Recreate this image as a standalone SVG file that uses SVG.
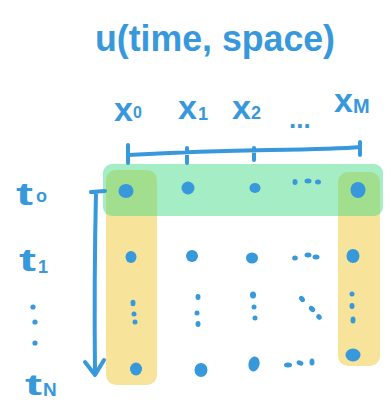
<svg xmlns="http://www.w3.org/2000/svg" width="391" height="404" viewBox="0 0 391 404">
<style>
.t{font-family:"Liberation Sans","DejaVu Sans",sans-serif;font-weight:bold;fill:#3898dc}
.d{fill:#3898dc}
.s{fill:none;stroke:#3898dc;stroke-width:4;stroke-linecap:round;stroke-linejoin:round}
</style>
<rect width="391" height="404" fill="#ffffff"/>
<g id="highlights">
<rect x="106" y="170" width="51" height="215" rx="10" fill="#f7e39a"/>
<rect x="338" y="172" width="42" height="194" rx="10" fill="#f7e39a"/>
<rect x="103" y="164" width="280" height="52" rx="9" fill="rgb(55,215,126)" fill-opacity="0.45"/>
</g>
<g id="title">
<text class="t" x="95" y="51" font-size="36" textLength="240" lengthAdjust="spacingAndGlyphs">u(time, space)</text>
</g>
<g id="space-labels">
<text class="t" x="114" y="121" font-size="34">x</text><text class="t" x="133" y="118" font-size="16">0</text>
<text class="t" x="178" y="119" font-size="34">x</text><text class="t" x="198" y="120" font-size="18">1</text>
<text class="t" x="232" y="119" font-size="34">x</text><text class="t" x="251" y="119" font-size="18">2</text>
<text class="t" x="289" y="128" font-size="26">...</text>
<text class="t" x="334" y="112" font-size="34">x</text><text class="t" x="353" y="113" font-size="20">M</text>
</g>
<g id="time-labels">
<text class="t" x="16" y="205" font-size="32" textLength="17" lengthAdjust="spacingAndGlyphs">t</text><text class="t" x="36" y="202" font-size="18">o</text>
<text class="t" x="19" y="271" font-size="32" textLength="17" lengthAdjust="spacingAndGlyphs">t</text><text class="t" x="38" y="273" font-size="18">1</text>
<circle class="d" cx="33" cy="307" r="2.6"/>
<circle class="d" cx="35" cy="322" r="2.6"/>
<circle class="d" cx="35" cy="343" r="2.6"/>
<text class="t" x="25" y="395" font-size="30" textLength="17" lengthAdjust="spacingAndGlyphs">t</text><text class="t" x="43" y="396" font-size="19">N</text>
</g>
<g id="connectors">
<path class="s" d="M128 145 L128 163 M128 155 Q200 151 270 150 T360 147 M187 148 L187 163 M254 148 L254 160 M360 142 L360 155"/>
<path class="s" d="M91 192 L105 191 M96 192 Q94 280 95 374 M85 362 L95 375 L104 360"/>
</g>
<g id="grid-points">
<ellipse class="d" cx="126" cy="191" rx="7.5" ry="7"/>
<ellipse class="d" cx="188" cy="188" rx="6.5" ry="6.5"/>
<ellipse class="d" cx="255" cy="188" rx="5.5" ry="5"/>
<ellipse class="d" cx="295" cy="182" rx="2.5" ry="3"/>
<ellipse class="d" cx="308" cy="181" rx="3.5" ry="2.5"/>
<ellipse class="d" cx="318" cy="182" rx="3" ry="2.5"/>
<ellipse class="d" cx="358" cy="190" rx="7.5" ry="8"/>

<ellipse class="d" cx="131" cy="257" rx="5.5" ry="6"/>
<ellipse class="d" cx="192" cy="256" rx="6" ry="6"/>
<ellipse class="d" cx="252" cy="258" rx="6" ry="5.5"/>
<ellipse class="d" cx="295" cy="258" rx="2.8" ry="2.5"/>
<ellipse class="d" cx="308" cy="255" rx="3.5" ry="2.5"/>
<ellipse class="d" cx="316" cy="257" rx="3.5" ry="2.5"/>
<ellipse class="d" cx="353" cy="256" rx="6.5" ry="7"/>

<ellipse class="d" cx="133" cy="303" rx="2.5" ry="3.2"/>
<ellipse class="d" cx="134" cy="314" rx="2.5" ry="2.5"/>
<ellipse class="d" cx="135" cy="322" rx="2.5" ry="2.5"/>
<ellipse class="d" cx="198" cy="297" rx="2.5" ry="3"/>
<ellipse class="d" cx="197" cy="313" rx="2.5" ry="2.5"/>
<ellipse class="d" cx="198" cy="324" rx="2.5" ry="3"/>
<ellipse class="d" cx="253" cy="295" rx="3" ry="3.5"/>
<ellipse class="d" cx="254" cy="307" rx="2.5" ry="2.5"/>
<ellipse class="d" cx="255" cy="318" rx="2.5" ry="2.5"/>
<ellipse class="d" cx="302" cy="299" rx="2.5" ry="3.5" transform="rotate(-35 302 299)"/>
<ellipse class="d" cx="312" cy="309" rx="2.5" ry="3.5" transform="rotate(-50 312 309)"/>
<ellipse class="d" cx="319" cy="317" rx="2.5" ry="3" transform="rotate(-45 319 317)"/>
<ellipse class="d" cx="352" cy="294" rx="2.5" ry="2.5"/>
<ellipse class="d" cx="352" cy="306" rx="2.5" ry="3"/>
<ellipse class="d" cx="353" cy="320" rx="2.5" ry="3.5"/>

<ellipse class="d" cx="136" cy="369" rx="6" ry="6.5"/>
<ellipse class="d" cx="201" cy="370" rx="6.5" ry="7"/>
<ellipse class="d" cx="254" cy="364" rx="5.5" ry="7.5" transform="rotate(15 254 364)"/>
<ellipse class="d" cx="288" cy="365" rx="4" ry="2.5"/>
<ellipse class="d" cx="300" cy="363" rx="3.5" ry="2.5" transform="rotate(20 300 363)"/>
<ellipse class="d" cx="312" cy="362" rx="2.5" ry="3.5"/>
<ellipse class="d" cx="353" cy="355" rx="7.5" ry="6.5"/>
</g>
</svg>
